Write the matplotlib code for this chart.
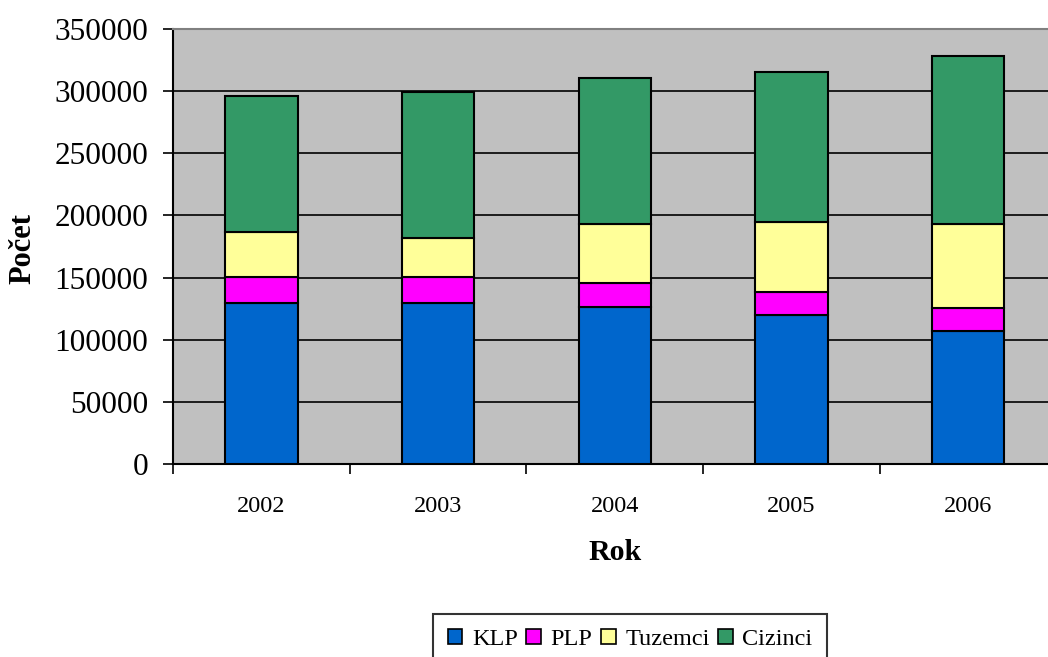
import numpy as np
import matplotlib
matplotlib.use("Agg")
import matplotlib.pyplot as plt
from matplotlib.patches import Patch

plt.rcParams['font.family'] = ['Liberation Serif', 'DejaVu Serif']

# Počet podle roku, rozdělený na kategorie
years = ['2002', '2003', '2004', '2005', '2006']
klp = [129900, 129900, 126700, 120300, 107400]
plp = [20900, 20900, 19300, 18000, 18000]
tuzemci = [35700, 30600, 46900, 55900, 67200]
cizinci = [109000, 117300, 117100, 120900, 135400]

series = [('KLP', klp, '#0066CC'),
          ('PLP', plp, '#FF00FF'),
          ('Tuzemci', tuzemci, '#FFFF99'),
          ('Cizinci', cizinci, '#339966')]

W, H = 1048, 657
fig = plt.figure(figsize=(W / 100, H / 100), dpi=100)
ax = fig.add_axes([173 / W, 1 - 464.3 / H, (1056.5 - 173) / W, (464.3 - 28.5) / H])
ax.set_facecolor('#C0C0C0')

x = np.arange(len(years))
bottom = np.zeros(len(years))
handles = []
for name, vals, color in series:
    vals = np.array(vals, dtype=float)
    ax.bar(x, vals, width=0.41, bottom=bottom, color=color,
           edgecolor='black', linewidth=1.5, zorder=3)
    bottom += vals
    handles.append(Patch(facecolor=color, edgecolor='black', linewidth=1.2, label=name))

ax.set_xlim(-0.5, len(years) - 0.5)
ax.set_ylim(0, 350000)
ax.set_yticks(np.arange(0, 350001, 50000))
ax.yaxis.grid(True, color='black', linewidth=1.2, zorder=1)
ax.set_axisbelow(True)

# category labels at centres, tick marks at category boundaries
ax.set_xticks(x)
ax.set_xticklabels(years, fontsize=17.5)
ax.set_xticks(np.arange(-0.5, len(years)), minor=True)
ax.tick_params(axis='x', which='major', length=0, pad=23)
ax.tick_params(axis='x', which='minor', length=7, width=1.2, direction='out', color='black')
ax.tick_params(axis='y', which='major', labelsize=22.5, length=7, width=1.2,
               direction='out', pad=11)

for side in ('left', 'bottom'):
    ax.spines[side].set_color('black')
    ax.spines[side].set_linewidth(1.5)
ax.spines['top'].set_color('#808080')
ax.spines['top'].set_linewidth(1.5)
ax.spines['right'].set_color('#808080')

fig.text(615 / W, 1 - 552 / H, 'Rok', fontsize=21.5, fontweight='bold',
         ha='center', va='center')
fig.text(23 / W, 1 - 248.5 / H, 'Počet', fontsize=22, fontweight='bold',
         rotation=90, ha='center', va='center')

leg = fig.legend(handles=handles, ncol=4, loc='upper left',
                 bbox_to_anchor=(433 / W, 1 - 614 / H), bbox_transform=fig.transFigure,
                 fontsize=17.5, frameon=True, fancybox=False, edgecolor='black',
                 handlelength=0.6, handleheight=0.6, handletextpad=0.4,
                 columnspacing=0.35, borderpad=0.6, borderaxespad=0)
leg.get_frame().set_linewidth(1.5)

fig.savefig('out.png', dpi=100, facecolor='white')
